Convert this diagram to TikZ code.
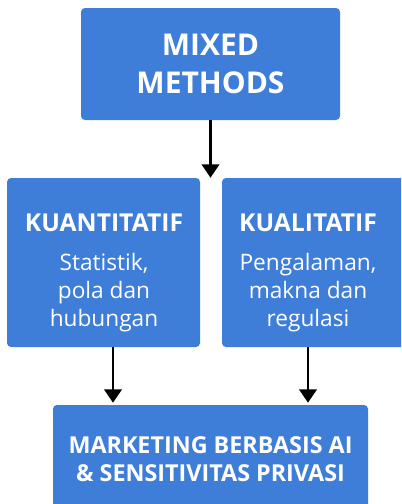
\documentclass[tikz,border=0pt]{standalone}
\usepackage{fontspec}
\setmainfont{Open Sans}
\usetikzlibrary{arrows.meta}
\definecolor{boxblue}{HTML}{3E7ED8}
\tikzset{
  bluebox/.style={fill=boxblue,rounded corners=3pt,inner sep=0pt},
  boxtext/.style={text=white,align=center,inner sep=0pt},
  bodyfont/.style={font=\fontsize{17}{20.8}\selectfont},
  arr/.style={line width=2pt,-{Triangle[width=13pt,length=10pt]}}
}
\begin{document}
\begin{tikzpicture}[line cap=butt,line join=round,x=0.75pt,y=-0.75pt]
\useasboundingbox (0,0) rectangle (401,504);
\clip (0,0) rectangle (401,504);
\fill[white] (0,0) rectangle (401,504);
\node[bluebox,boxtext,minimum width=194.25pt,minimum height=84pt,font=\fontsize{22.5}{28.5}\selectfont\bfseries] (mix) at (210.5,64) {MIXED\\METHODS};
\node[bluebox,minimum width=144.75pt,minimum height=126.75pt] (kuan) at (103.5,262.5) {};
\node[boxtext,bodyfont] (kuantxt) at (104,273) {{\fontsize{18.5}{22}\selectfont\bfseries KUANTITATIF}\\[8.5pt]
  Statistik,\\ pola dan\\ hubungan};
\node[bluebox,minimum width=144.75pt,minimum height=126.75pt] (kual) at (318.5,262.5) {};
\node[boxtext,bodyfont] (kualtxt) at (308,273) {{\fontsize{18.5}{22}\selectfont\bfseries KUALITATIF}\\[8.5pt]
  Pengalaman,\\ makna dan\\ regulasi};
\node[bluebox,boxtext,minimum width=236.25pt,minimum height=81pt,font=\fontsize{17.5}{21}\selectfont\bfseries] (bot) at (210.5,459) {MARKETING BERBASIS AI\\\& SENSITIVITAS PRIVASI};
\coordinate (la) at (113,0);
\coordinate (ra) at (308,0);
% arrows
\draw[arr] (mix.south) -- (mix.south |- kuan.north);
\draw[arr] (kuan.south -| la) -- ([yshift=1.5pt]bot.north -| la);
\draw[arr] (kual.south -| ra) -- ([yshift=1.5pt]bot.north -| ra);
\end{tikzpicture}
\end{document}
